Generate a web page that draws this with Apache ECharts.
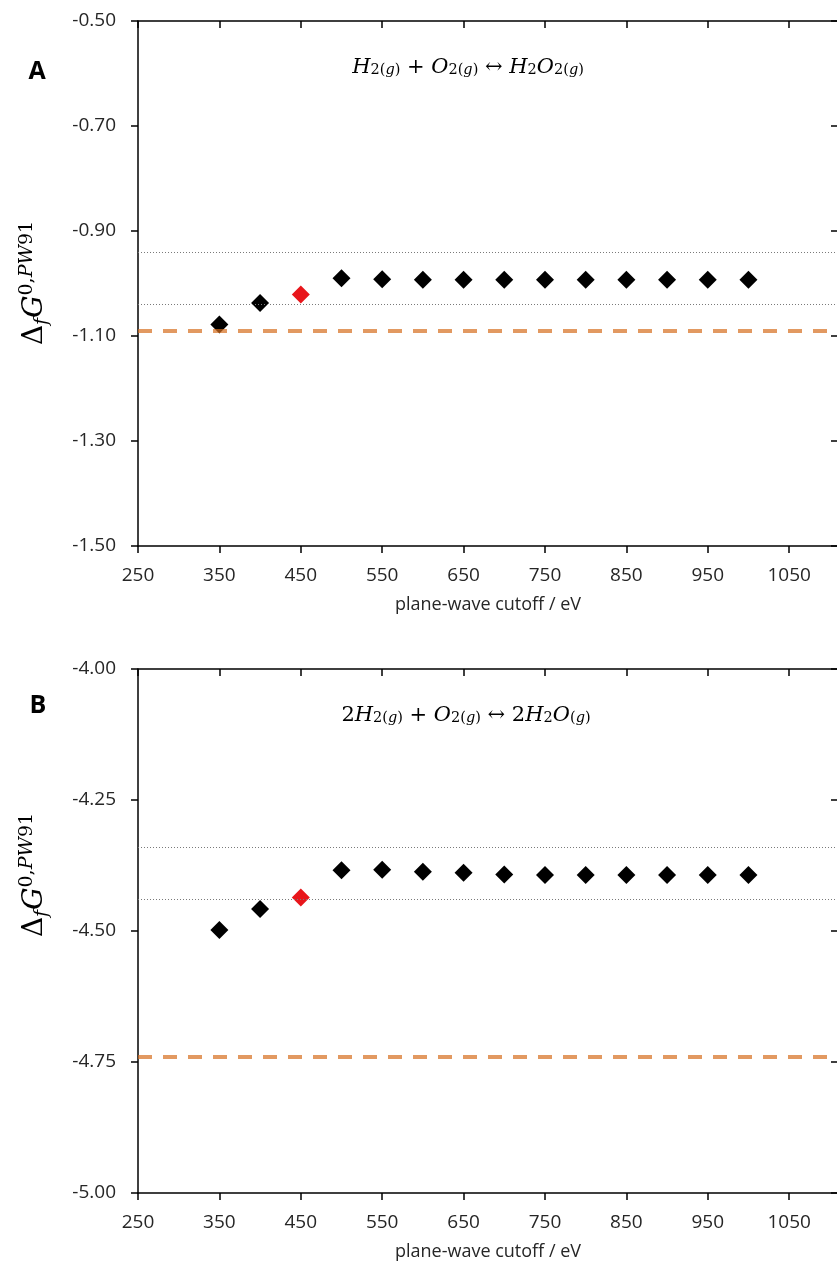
<!DOCTYPE html>
<html>
<head>
<meta charset="utf-8">
<script src="https://cdn.jsdelivr.net/npm/echarts@6.0.0/dist/echarts.min.js"></script>
<style>
  html, body { margin: 0; padding: 0; background: #fff; overflow: hidden; }
  #chart { width: 837px; height: 1269px; }
</style>
</head>
<body>
<div id="chart"></div>
<script>
// plane-wave cutoff (eV) and formation free energies for the two reactions
const cutoffs = [350, 400, 450, 500, 550, 600, 650, 700, 750, 800, 850, 900, 950, 1000];
const energiesA = [-1.078, -1.037, -1.021, -0.990, -0.992, -0.993, -0.993, -0.993, -0.993, -0.993, -0.993, -0.993, -0.993, -0.993];
const energiesB = [-4.498, -4.458, -4.436, -4.384, -4.383, -4.387, -4.389, -4.392, -4.393, -4.393, -4.393, -4.393, -4.393, -4.393];
const chosenCutoff = 450;

// dotted band (converged value +/- 0.05) and dashed reference value
const bandA = [-0.943, -1.043];
const bandB = [-4.340, -4.440];
const refA = -1.090;
const refB = -4.739;

// tick labels
const xTicks = [250, 350, 450, 550, 650, 750, 850, 950, 1050];
const yTicksA = [-1.5, -1.3, -1.1, -0.9, -0.7, -0.5];
const yTicksB = [-5.0, -4.75, -4.5, -4.25, -4.0];

const labelFont = '"Open Sans", "DejaVu Sans", sans-serif';
const mathFont = '"DejaVu Serif", serif';
const axisColor = '#000';

function xAxisPair(grid) {
  const base = {
    type: 'value', gridIndex: grid, min: 250, max: 1110, interval: 100,
    splitLine: { show: false },
    axisLine: { show: true, onZero: false, lineStyle: { color: axisColor, width: 1.5 } }
  };
  return [
    Object.assign({}, base, {
      position: 'bottom',
      axisTick: { show: true, inside: false, length: 7, customValues: xTicks, lineStyle: { color: axisColor, width: 1.5 } },
      axisLabel: {
        customValues: xTicks, margin: 20, fontSize: 19, fontFamily: labelFont, color: '#262626',
        formatter: v => String(v)
      },
      name: 'plane-wave cutoff / eV', nameLocation: 'middle', nameGap: 50,
      nameTextStyle: { fontSize: 18, fontFamily: labelFont, color: '#262626' }
    }),
    Object.assign({}, base, {
      position: 'top',
      axisTick: { show: true, inside: true, length: 7, customValues: xTicks, lineStyle: { color: axisColor, width: 1.5 } },
      axisLabel: { show: false }
    })
  ];
}

function yAxisPair(grid, ticks) {
  const base = {
    type: 'value', gridIndex: grid,
    min: ticks[0], max: ticks[ticks.length - 1], interval: ticks[1] - ticks[0],
    splitLine: { show: false },
    axisLine: { show: true, onZero: false, lineStyle: { color: axisColor, width: 1.5 } }
  };
  return [
    Object.assign({}, base, {
      position: 'left',
      axisTick: { show: true, inside: false, length: 7, customValues: ticks, lineStyle: { color: axisColor, width: 1.5 } },
      axisLabel: {
        customValues: ticks, margin: 22, fontSize: 19, fontFamily: labelFont, color: '#262626',
        formatter: v => v.toFixed(2)
      }
    }),
    Object.assign({}, base, {
      position: 'right',
      axisTick: { show: true, inside: true, length: 7, customValues: ticks, lineStyle: { color: axisColor, width: 1.5 } },
      axisLabel: { show: false }
    })
  ];
}

function points(values) {
  return cutoffs.map((c, i) => ({
    value: [c, values[i]],
    itemStyle: { color: c === chosenCutoff ? '#e8161b' : '#000', opacity: 1 }
  }));
}

function refLines(band, ref) {
  const dotted = { color: '#7a7a7a', width: 1, type: [1, 2] };
  return {
    silent: true, symbol: ['none', 'none'], label: { show: false },
    data: [
      { yAxis: band[0], lineStyle: dotted },
      { yAxis: band[1], lineStyle: dotted },
      { yAxis: ref, lineStyle: { color: 'rgba(214,110,30,0.7)', width: 4, type: [14, 11] } }
    ]
  };
}

const eqRich = {
  m: { fontFamily: mathFont, fontStyle: 'italic', fontSize: 21, lineHeight: 28, verticalAlign: 'bottom', color: '#000' },
  n: { fontFamily: mathFont, fontSize: 21, lineHeight: 28, verticalAlign: 'bottom', color: '#000' },
  s: { fontFamily: mathFont, fontStyle: 'italic', fontSize: 14.5, lineHeight: 15, verticalAlign: 'bottom', color: '#000' },
  t: { fontFamily: mathFont, fontSize: 14.5, lineHeight: 15, verticalAlign: 'bottom', color: '#000' }
};
const eqA = '{m|H}{t|2(}{s|g}{t|)}{n| + }{m|O}{t|2(}{s|g}{t|)}{n| ↔ }{m|H}{t|2}{m|O}{t|2(}{s|g}{t|)}';
const eqB = '{n|2}{m|H}{t|2(}{s|g}{t|)}{n| + }{m|O}{t|2(}{s|g}{t|)}{n| ↔ 2}{m|H}{t|2}{m|O}{t|(}{s|g}{t|)}';

const yRich = {
  d: { fontFamily: mathFont, fontSize: 28, lineHeight: 34, verticalAlign: 'middle', color: '#000' },
  g: { fontFamily: mathFont, fontStyle: 'italic', fontSize: 28, lineHeight: 34, verticalAlign: 'middle', color: '#000' },
  f: { fontFamily: mathFont, fontStyle: 'italic', fontSize: 19, lineHeight: 16, verticalAlign: 'bottom', color: '#000' },
  p: { fontFamily: mathFont, fontSize: 19, lineHeight: 16, verticalAlign: 'top', color: '#000' },
  q: { fontFamily: mathFont, fontStyle: 'italic', fontSize: 19, lineHeight: 16, verticalAlign: 'top', color: '#000' }
};
const yTitle = '{d|Δ}{f|f}{g|G}{p|0,}{q|PW}{p|91}';

const chart = echarts.init(document.getElementById('chart'));
chart.setOption({
  animation: false,
  backgroundColor: '#fff',
  grid: [
    { left: 138, top: 21, width: 700, height: 525, outerBoundsMode: 'none', containLabel: false },
    { left: 138, top: 669, width: 700, height: 524, outerBoundsMode: 'none', containLabel: false }
  ],
  xAxis: xAxisPair(0).concat(xAxisPair(1)),
  yAxis: yAxisPair(0, yTicksA).concat(yAxisPair(1, yTicksB)),
  series: [
    {
      type: 'scatter', xAxisIndex: 0, yAxisIndex: 0,
      symbol: 'diamond', symbolSize: 18,
      data: points(energiesA),
      markLine: refLines(bandA, refA)
    },
    {
      type: 'scatter', xAxisIndex: 2, yAxisIndex: 2,
      symbol: 'diamond', symbolSize: 18,
      data: points(energiesB),
      markLine: refLines(bandB, refB)
    }
  ],
  graphic: [
    { type: 'text', x: 37, y: 72, style: { text: 'A', font: 'bold 25px "Open Sans"', fill: '#000', align: 'center', verticalAlign: 'middle' } },
    { type: 'text', x: 38, y: 706, style: { text: 'B', font: 'bold 25px "Open Sans"', fill: '#000', align: 'center', verticalAlign: 'middle' } },
    { type: 'text', x: 468, y: 64, style: { text: eqA, rich: eqRich, align: 'center', verticalAlign: 'middle' } },
    { type: 'text', x: 466, y: 712, style: { text: eqB, rich: eqRich, align: 'center', verticalAlign: 'middle' } },
    { type: 'text', x: 35, y: 283, rotation: Math.PI / 2, style: { text: yTitle, rich: yRich, align: 'center', verticalAlign: 'middle' } },
    { type: 'text', x: 35, y: 875, rotation: Math.PI / 2, style: { text: yTitle, rich: yRich, align: 'center', verticalAlign: 'middle' } }
  ]
});
</script>
</body>
</html>
